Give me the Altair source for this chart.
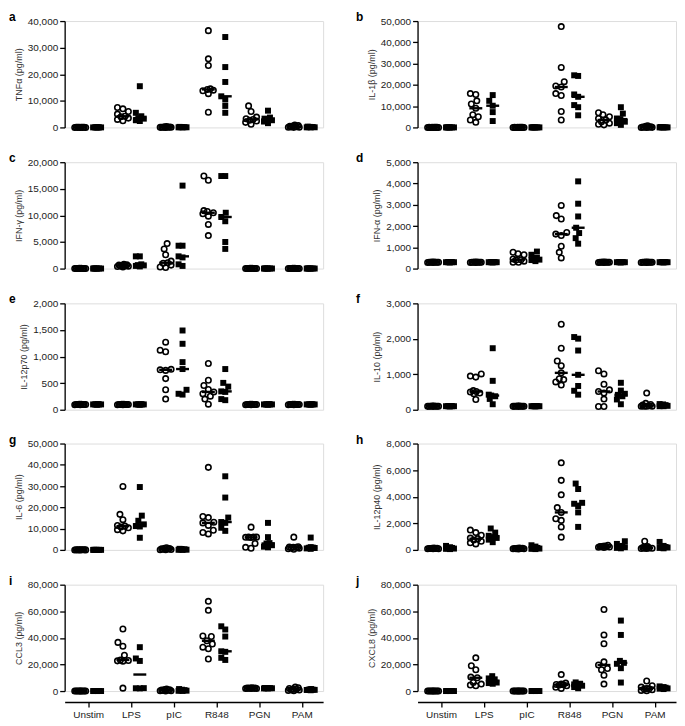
import json
import altair as alt
import numpy as np
import pandas as pd

categories = ["Unstim", "LPS", "pIC", "R848", "PGN", "PAM"]
letters = ["a", "b", "c", "d", "e", "f", "g", "h", "i", "j"]
titles = ["TNFα (pg/ml)", "IL-1β (pg/ml)", "IFN-γ (pg/ml)", "IFN-α (pg/ml)",
          "IL-12p70 (pg/ml)", "IL-10 (pg/ml)", "IL-6 (pg/ml)", "IL-12p40 (pg/ml)",
          "CCL3 (pg/ml)", "CXCL8 (pg/ml)"]
y_max = [40000, 50000, 20000, 5000, 2000, 3000, 50000, 8000, 80000, 80000]
y_step = [10000, 10000, 5000, 1000, 500, 1000, 10000, 2000, 20000, 20000]

# open circles (first group) and filled squares (second group), per stimulus
tnfa_open = [[50, 30, 20, 10, 0, 40, 60, 20, 10],
             [7500, 7000, 6000, 5000, 4200, 4000, 3500, 3000, 2500],
             [300, 200, 150, 100, 80, 50, 30, 20, 10],
             [36400, 25800, 23300, 14500, 14300, 14000, 13800, 12700, 5700],
             [8100, 6000, 3900, 3300, 3000, 2700, 2400, 1900, 1200],
             [900, 700, 500, 400, 300, 200, 100, 50, 20]]
tnfa_filled = [[30, 20, 10, 0, 40, 20, 10],
               [15500, 5500, 4200, 3500, 3300, 2700, 2400],
               [200, 150, 100, 80, 50, 30, 20],
               [34000, 22700, 17100, 11700, 10500, 8100, 5500],
               [6300, 3700, 3300, 3000, 2700, 2200, 1600],
               [300, 200, 150, 100, 50, 30, 10]]

il1b_open = [[40, 30, 20, 10, 0, 50, 20, 10, 0],
             [15900, 15500, 12500, 11000, 9000, 6000, 5000, 3500, 2400],
             [40, 30, 20, 10, 0, 50, 20, 10, 0],
             [47400, 28200, 21500, 19500, 19000, 15900, 15000, 7500, 3500],
             [6900, 6000, 5000, 4200, 3500, 2700, 2000, 1500, 1200],
             [800, 500, 300, 200, 100, 50, 30, 10, 0]]
il1b_filled = [[30, 20, 10, 0, 20, 10, 0],
               [15200, 12500, 10200, 7200, 3000],
               [30, 20, 10, 0, 20, 10, 0],
               [24500, 24200, 15500, 14400, 10500, 9500, 5700],
               [9500, 6500, 4200, 3900, 2700, 2000, 1200],
               [200, 100, 50, 30, 20, 10, 0]]

ifng_open = [[40, 30, 20, 10, 0, 50, 20, 10, 0],
             [800, 700, 650, 600, 550, 500, 450, 400, 300],
             [4700, 3700, 2600, 1400, 1100, 1000, 650, 300, 200],
             [17400, 16600, 10900, 10750, 10500, 10300, 9850, 8300, 6200],
             [40, 30, 20, 10, 0, 50, 20, 10, 0],
             [40, 30, 20, 10, 0, 50, 20, 10, 0]]
ifng_filled = [[30, 20, 10, 0, 20, 10, 0],
               [2300, 2300, 800, 650, 600, 500, 400],
               [15600, 4300, 4300, 2300, 2100, 800, 500],
               [17400, 17400, 10500, 9700, 8900, 5000, 3700],
               [30, 20, 10, 0, 20, 10, 0],
               [30, 20, 10, 0, 20, 10, 0]]

ifna_open = [[310, 300, 300, 290, 300, 310, 300, 290, 300],
             [310, 300, 300, 290, 300, 310, 300, 290, 300],
             [770, 700, 650, 450, 420, 400, 350, 300, 300],
             [2970, 2490, 2330, 1700, 1620, 1550, 1050, 765, 500],
             [310, 300, 300, 290, 300, 310, 300, 290, 300],
             [310, 300, 300, 290, 300, 310, 300, 290, 300]]
ifna_filled = [[300, 300, 310, 290, 300, 300, 300],
               [300, 300, 310, 290, 300, 300, 300],
               [800, 650, 500, 450, 420, 400, 350],
               [4100, 3050, 2450, 1920, 1670, 1430, 1170],
               [300, 300, 310, 290, 300, 300, 300],
               [300, 300, 310, 290, 300, 300, 300]]

il12p70_open = [[100, 100, 95, 105, 100, 100, 95, 105, 100],
                [100, 100, 95, 105, 100, 100, 95, 105, 100],
                [1270, 1120, 1090, 760, 750, 740, 585, 375, 200],
                [870, 555, 455, 380, 335, 300, 255, 200, 105],
                [100, 100, 95, 105, 100, 100, 95, 105, 100],
                [100, 100, 95, 105, 100, 100, 95, 105, 100]]
il12p70_filled = [[100, 100, 95, 105, 100, 100, 100],
                  [100, 100, 95, 105, 100, 100, 100],
                  [1490, 1240, 895, 765, 375, 300, 285],
                  [765, 505, 435, 345, 335, 200, 180],
                  [100, 100, 95, 105, 100, 100, 100],
                  [100, 100, 95, 105, 100, 100, 100]]

il10_open = [[100, 100, 95, 105, 100, 100, 95, 105, 100],
             [1010, 950, 920, 540, 515, 500, 470, 450, 290],
             [100, 100, 95, 105, 100, 100, 95, 105, 100],
             [2410, 1735, 1375, 1240, 1040, 875, 850, 785, 695],
             [1100, 1010, 720, 560, 515, 470, 300, 90, 90],
             [470, 180, 150, 130, 110, 100, 100, 100, 100]]
il10_filled = [[100, 100, 95, 105, 100, 100, 100],
               [1735, 815, 425, 400, 380, 305, 155],
               [100, 100, 95, 105, 100, 100, 100],
               [2050, 2005, 1670, 985, 670, 535, 425],
               [760, 540, 450, 420, 380, 290, 155],
               [160, 150, 130, 120, 110, 100, 100]]

il6_open = [[40, 30, 20, 10, 0, 50, 20, 10, 0],
            [29850, 16700, 14200, 11500, 11200, 10800, 10400, 9500, 8950],
            [1000, 800, 600, 500, 400, 300, 200, 100, 50],
            [38800, 15700, 15200, 13000, 12700, 11500, 9250, 8200, 7500],
            [10700, 6100, 6000, 6000, 5900, 5800, 3000, 1200, 750],
            [6000, 1500, 1300, 1200, 1200, 1000, 800, 500, 300]]
il6_filled = [[30, 20, 10, 0, 20, 10, 0],
              [29550, 16100, 13700, 12000, 11200, 11000, 5700],
              [500, 400, 300, 200, 100, 50, 0],
              [34600, 24600, 15200, 13100, 12700, 10400, 8950],
              [12700, 6000, 3200, 3000, 2200, 1500, 1200],
              [5800, 1300, 1100, 1000, 900, 700, 500]]

il12p40_open = [[150, 120, 120, 110, 100, 100, 90, 80, 80],
                [1490, 1300, 1100, 890, 840, 750, 650, 530, 450],
                [150, 130, 120, 100, 100, 90, 80, 80, 70],
                [6550, 5230, 4140, 3180, 2820, 2340, 2220, 1730, 960],
                [350, 300, 280, 250, 240, 230, 220, 200, 180],
                [650, 250, 200, 180, 150, 130, 120, 100, 100]]
il12p40_filled = [[300, 200, 150, 120, 100, 80, 60],
                  [1610, 1300, 1060, 960, 900, 770, 580],
                  [350, 250, 150, 120, 100, 80, 60],
                  [4990, 4580, 3540, 3470, 3300, 2820, 1730],
                  [650, 450, 300, 250, 200, 150, 120],
                  [600, 300, 220, 200, 180, 150, 120]]

ccl3_open = [[40, 30, 20, 10, 0, 50, 20, 10, 0],
             [46700, 36600, 33700, 27000, 23400, 23000, 22700, 22500, 2200],
             [1500, 1200, 1000, 800, 600, 400, 300, 200, 100],
             [67500, 60700, 41400, 41000, 37800, 35400, 33000, 31800, 24100],
             [2400, 2300, 2200, 2200, 2100, 2100, 2000, 2000, 1900],
             [3000, 2500, 2000, 1500, 1200, 1000, 800, 500, 300]]
ccl3_filled = [[30, 20, 10, 0, 20, 10, 0],
               [33000, 24500, 22650, 2200, 2100, 2000],
               [1500, 1000, 700, 500, 300, 200, 100],
               [48700, 46300, 41000, 29900, 29500, 25000, 23400],
               [2300, 2200, 2200, 2100, 2100, 2000, 2000],
               [1500, 1200, 1000, 1000, 900, 800, 600]]

cxcl8_open = [[40, 30, 20, 10, 0, 50, 20, 10, 0],
              [25000, 19000, 16000, 10500, 10000, 6400, 5250, 4500, 4000],
              [40, 30, 20, 10, 0, 50, 20, 10, 0],
              [12400, 6000, 5200, 5000, 4800, 4500, 4000, 2900, 2000],
              [61300, 42200, 35600, 22000, 19600, 17000, 16000, 11900, 5250],
              [7600, 4000, 3000, 2000, 1700, 1500, 1000, 500, 300]]
cxcl8_filled = [[30, 20, 10, 0, 20, 10, 0],
                [11200, 9500, 8800, 7600, 6400, 6000, 5500],
                [30, 20, 10, 0, 20, 10, 0],
                [6500, 5500, 5000, 4800, 4000, 3000, 2100],
                [53000, 42200, 22700, 21200, 20500, 17200, 6400],
                [3500, 3000, 2500, 2300, 2000, 1800, 1500]]

open_sets = [tnfa_open, il1b_open, ifng_open, ifna_open, il12p70_open,
             il10_open, il6_open, il12p40_open, ccl3_open, cxcl8_open]
filled_sets = [tnfa_filled, il1b_filled, ifng_filled, ifna_filled, il12p70_filled,
               il10_filled, il6_filled, il12p40_filled, ccl3_filled, cxcl8_filled]

W, H = 260, 107
XDOM = [-0.55, 5.5]
PXU = W / (XDOM[1] - XDOM[0])
FONT = "Liberation Sans"


def swarm(vals, k, d, maxoff):
    """Horizontal spread (px) so that overlapping points sit side by side."""
    order = sorted(range(len(vals)), key=lambda i: vals[i])
    cands = sorted(np.arange(-maxoff, maxoff + 0.01, 0.5), key=abs)
    placed = []
    offs = [0.0] * len(vals)
    for i in order:
        y = vals[i] * k
        chosen, best_c, best_d = None, 0.0, -1.0
        for c in cands:
            md = min([np.hypot(c - px, y - py) for px, py in placed], default=1e9)
            if md >= d:
                chosen = c
                break
            if md > best_d:
                best_d, best_c = md, c
        if chosen is None:
            chosen = best_c
        placed.append((chosen, y))
        offs[i] = float(chosen)
    return offs


def build(idx):
    k = H / y_max[idx]
    pts = {"open": [], "filled": []}
    med = []
    for g, sets, cpx, maxoff in [("open", open_sets[idx], -8.0, 5.5),
                                 ("filled", filled_sets[idx], 9.0, 4.0)]:
        for ci, vals in enumerate(sets):
            offs = swarm(vals, k, 6.0, maxoff)
            for v, o in zip(vals, offs):
                pts[g].append({"x": ci + (cpx + o) / PXU, "value": v})
            m = float(np.median(vals))
            med.append({"x": ci + (cpx - 6.5) / PXU, "x2": ci + (cpx + 6.5) / PXU, "value": m})
    return pd.DataFrame(pts["open"]), pd.DataFrame(pts["filled"]), pd.DataFrame(med)


label_expr = json.dumps(categories) + "[datum.value]"


def panel(idx, bottom, letter_dx):
    d_open, d_filled, d_med = build(idx)
    if bottom:
        xaxis = alt.Axis(values=list(range(len(categories))), labelExpr=label_expr,
                         title=None, grid=False, offset=11, tickSize=5,
                         domainColor="black", tickColor="black", domainWidth=1.3,
                         tickWidth=1.3, labelColor="#222", labelFontSize=10,
                         labelPadding=3, labelFont=FONT)
    else:
        xaxis = None
    X = alt.X("x:Q", scale=alt.Scale(domain=XDOM, nice=False, zero=False), axis=xaxis)
    Y = alt.Y("value:Q",
              scale=alt.Scale(domain=[0, y_max[idx]], nice=False),
              axis=alt.Axis(values=list(range(0, y_max[idx] + 1, y_step[idx])),
                            format=",.0f", title=titles[idx], grid=False, tickSize=5,
                            domainColor="black", tickColor="black", domainWidth=1.3,
                            tickWidth=1.3, labelColor="#222", labelFontSize=10,
                            labelFont=FONT, titleFont=FONT, titleFontSize=9,
                            titleFontWeight="normal", titleColor="#333",
                            titlePadding=4, labelPadding=2))
    circles = alt.Chart(d_open).mark_point(shape="circle", filled=False, color="black",
                                           strokeWidth=1.6, size=30, opacity=1).encode(x=X, y=Y)
    squares = alt.Chart(d_filled).mark_square(color="black", size=36, opacity=1).encode(x=X, y=Y)
    medians = alt.Chart(d_med).mark_rule(color="black", strokeWidth=2.4).encode(
        x=X, x2=alt.X2("x2"), y=Y)
    lab = alt.Chart(pd.DataFrame({"t": [letters[idx]]})).mark_text(
        align="left", baseline="middle", fontSize=12, fontWeight="bold", font=FONT,
        color="black").encode(text="t:N", x=alt.value(letter_dx), y=alt.value(-4))
    return alt.layer(circles, squares, medians, lab).properties(width=W, height=H)


rows = []
for r in range(5):
    left = panel(2 * r, r == 4, -56)
    right = panel(2 * r + 1, r == 4, -62)
    rows.append(alt.hconcat(left, right, spacing=31))

chart = alt.vconcat(*rows, spacing=17).properties(
    padding=0
).configure_view(stroke=None).configure(font=FONT)

chart.save("out.html", embed_options={"renderer": "svg", "actions": False})
